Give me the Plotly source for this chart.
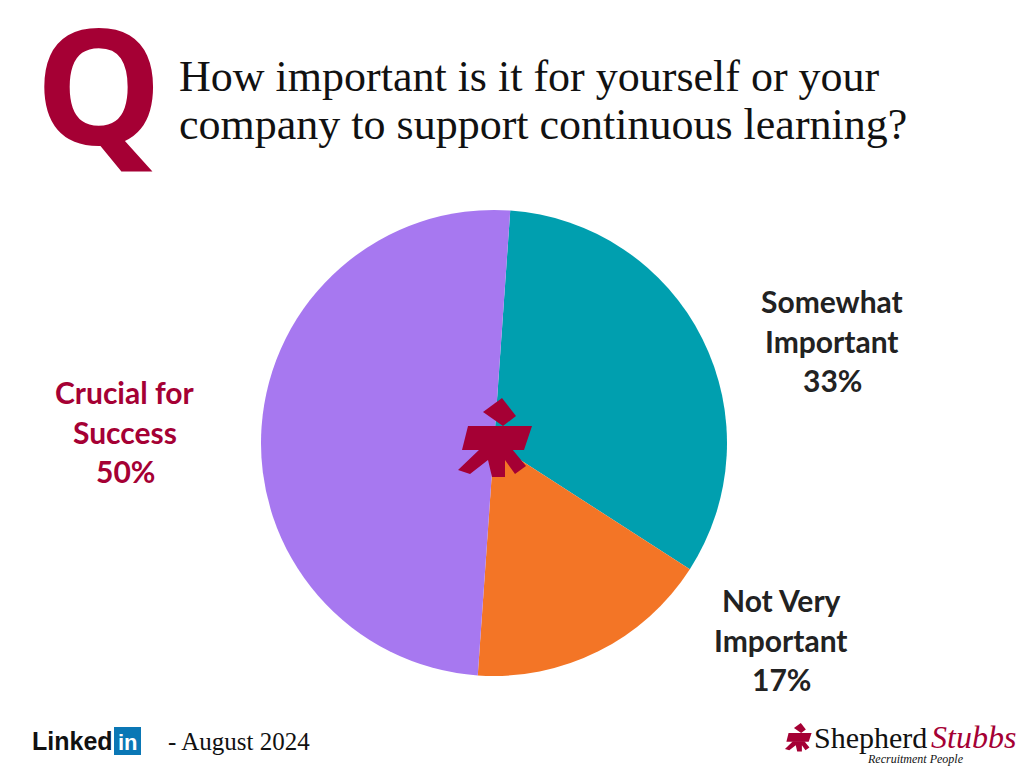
import plotly.graph_objects as go

# ---- data ----
categories = ["Somewhat Important", "Not Very Important", "Crucial for Success"]
values = [33, 17, 50]
slice_colors = ["#009FAF", "#F37526", "#A778F0"]
label_lines = [["Somewhat", "Important", "33%"],
               ["Not Very", "Important", "17%"],
               ["Crucial for", "Success", "50%"]]
title_lines = ["How important is it for yourself or your",
               "company to support continuous learning?"]
footer_date = "- August 2024"

CRIMSON = "#A50034"
W, H = 1024, 768
OFF = 8  # page body margin offset


def px(x):
    return x - OFF


def py(y):
    return y - OFF


fig = go.Figure()

fig.add_trace(go.Pie(
    labels=categories, values=values, sort=False, direction="clockwise",
    rotation=4, marker=dict(colors=slice_colors, line=dict(width=0)),
    textinfo="none", hoverinfo="label+percent", showlegend=False,
    domain=dict(x=[px(261) / W, px(727) / W], y=[1 - py(676) / H, 1 - py(210) / H]),
))

# invisible pixel-space axes for decorations
fig.add_trace(go.Scatter(x=[0, W], y=[0, H], mode="markers",
                         marker=dict(opacity=0), hoverinfo="skip", showlegend=False))

shapes = []


def icon(cx, cy, s):
    def P(pts):
        d = "M " + " L ".join(f"{px(cx + (x - 497) * s)},{py(cy + (y - 437) * s)}"
                              for x, y in pts) + " Z"
        return dict(type="path", path=d, xref="x", yref="y",
                    fillcolor=CRIMSON, line=dict(width=0), layer="above")
    out = []
    out.append(P([(483, 412), (502, 398), (516, 416), (503, 426)]))
    out.append(P([(468, 426), (532, 426), (524, 450), (462, 450)]))
    out.append(P([(480, 449), (458, 470), (470, 474), (488, 460), (492, 477), (505, 477),
                  (505, 460), (515, 474), (526, 466), (512, 449)]))
    return out


shapes += icon(497, 437, 1.0)
shapes += icon(799, 737, 0.36)
# LinkedIn "in" box
shapes.append(dict(type="rect", xref="x", yref="y", x0=px(114), x1=px(141),
                   y0=py(727), y1=py(755), fillcolor="#0A77B5", line=dict(width=0)))

ann = []


def add_text(text, x, y, size, family, color="#111111", xanchor="left",
             yanchor="middle", weight=None):
    f = dict(family=family, size=size, color=color)
    if weight:
        f["weight"] = weight
    ann.append(dict(text=text, x=px(x), y=py(y), xref="x", yref="y", showarrow=False,
                    xanchor=xanchor, yanchor=yanchor, font=f))


# Big Q
add_text("<b>Q</b>", 98, 82, 160, "Open Sans", CRIMSON, "center", weight=800)
# Title (each line placed separately for spacing)
add_text(title_lines[0], 177, 76, 44, "Liberation Serif")
add_text(title_lines[1], 177, 124, 44, "Liberation Serif")
# slice labels
label_pos = [(832, 301, "#222222"), (781, 600, "#222222"), (125, 392, CRIMSON)]
for lines, (x, y, c) in zip(label_lines, label_pos):
    for i, ln in enumerate(lines):
        add_text(ln, x, y + i * 39.5, 30, "Lato", c, "center", weight=700)
# LinkedIn
add_text("<b>Linked</b>", 30, 741, 25, "Liberation Sans")
add_text("<b>in</b>", 127.5, 742, 22, "Liberation Sans", "white", "center")
add_text(footer_date, 166, 741, 25, "Liberation Serif")
# Shepherd Stubbs logo
add_text("Shepherd", 812, 737, 30, "Liberation Serif")
add_text("<i>Stubbs</i>", 929, 737, 32, "Liberation Serif", CRIMSON)
add_text("<i>Recruitment People</i>", 915, 759, 12, "Liberation Serif", "#111111", "center")

fig.update_layout(
    width=W, height=H, margin=dict(l=0, r=0, t=0, b=0),
    paper_bgcolor="white", plot_bgcolor="rgba(0,0,0,0)",
    xaxis=dict(range=[0, W], visible=False, domain=[0, 1], fixedrange=True),
    yaxis=dict(range=[H, 0], visible=False, domain=[0, 1], fixedrange=True),
    shapes=shapes, annotations=ann, showlegend=False,
)

fig.write_html("out.html")
